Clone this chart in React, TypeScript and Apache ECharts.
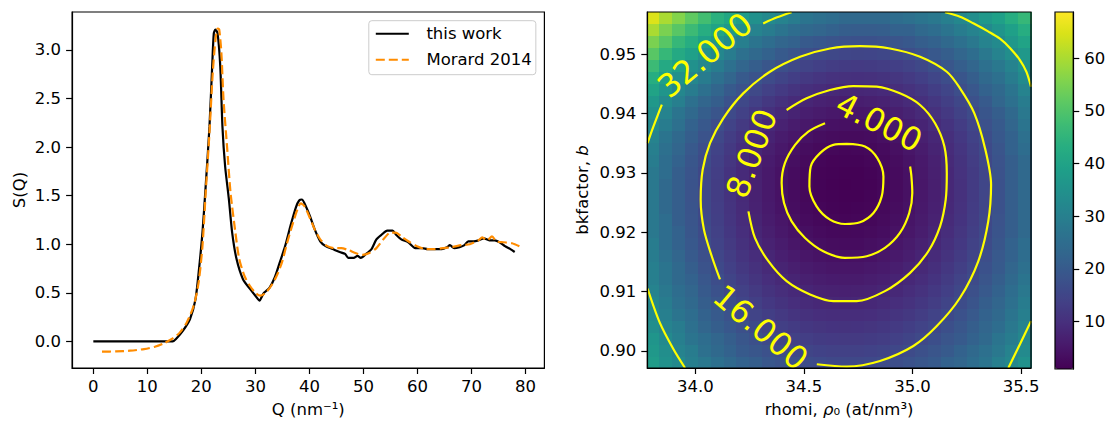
import React, { useEffect, useRef } from 'react';
import * as echarts from 'echarts';

const FONT = '"DejaVu Sans", sans-serif';
const FS = 16.5;

// ---------- Left panel: structure factor S(Q) ----------
const thisWorkQ = [0, 14.7, 15.3, 16.6, 17.9, 18.9, 19.5, 20.2, 20.8, 21.5, 22.0, 22.3, 22.6, 23.0, 23.5, 23.9, 24.4, 25.1, 25.7, 26.5, 27.7, 29.0, 30.0, 30.8, 31.1, 31.6, 32.6, 33.6, 34.5, 35.5, 36.5, 37.5, 38.1, 38.6, 39.1, 40.1, 41.0, 42.0, 43.0, 44.3, 45.6, 46.6, 47.2, 48.2, 48.9, 49.5, 50.5, 51.5, 52.4, 53.4, 54.4, 55.4, 56.0, 57.0, 58.3, 59.6, 60.9, 61.9, 63.2, 64.5, 65.5, 66.0, 66.8, 67.8, 68.7, 69.4, 70.4, 71.3, 72.3, 73.3, 74.3, 75.2, 76.2, 77.2, 78.0];
const thisWorkS = [0, 0, 0.024, 0.11, 0.23, 0.43, 0.71, 1.12, 1.60, 2.21, 2.83, 3.17, 3.21, 3.17, 2.83, 2.21, 1.80, 1.46, 1.12, 0.85, 0.64, 0.54, 0.47, 0.42, 0.45, 0.50, 0.55, 0.66, 0.81, 0.98, 1.19, 1.38, 1.45, 1.46, 1.42, 1.29, 1.15, 1.03, 0.98, 0.95, 0.92, 0.90, 0.86, 0.86, 0.88, 0.86, 0.90, 0.95, 1.05, 1.10, 1.14, 1.14, 1.10, 1.05, 1.02, 0.96, 0.96, 0.95, 0.95, 0.95, 0.97, 0.99, 0.96, 0.97, 0.99, 1.03, 1.03, 1.04, 1.06, 1.04, 1.04, 1.02, 0.98, 0.95, 0.92];

const morardQ = [1.6, 4.2, 6.8, 9.4, 11.4, 13.0, 14.7, 16.0, 17.3, 18.6, 19.5, 20.2, 20.8, 21.5, 22.1, 22.6, 23.0, 23.3, 23.7, 24.1, 24.8, 25.4, 26.3, 27.0, 28.0, 29.0, 30.0, 30.9, 31.9, 32.9, 33.9, 34.9, 35.8, 36.8, 37.8, 38.4, 39.1, 40.1, 41.0, 42.0, 43.3, 44.6, 45.9, 47.2, 48.5, 49.8, 51.1, 52.4, 53.7, 55.0, 56.0, 57.0, 58.3, 59.9, 61.6, 63.2, 64.8, 66.4, 68.1, 69.7, 71.3, 72.0, 72.9, 73.8, 74.6, 75.9, 77.5, 79.0];
const morardS = [-0.106, -0.103, -0.096, -0.079, -0.055, -0.021, 0.031, 0.09, 0.195, 0.37, 0.61, 0.98, 1.53, 2.15, 2.76, 3.10, 3.22, 3.21, 2.97, 2.49, 1.97, 1.53, 1.12, 0.85, 0.67, 0.57, 0.50, 0.47, 0.50, 0.57, 0.67, 0.81, 1.00, 1.19, 1.36, 1.42, 1.39, 1.27, 1.15, 1.05, 0.98, 0.96, 0.96, 0.94, 0.91, 0.89, 0.91, 0.96, 1.05, 1.12, 1.12, 1.08, 1.03, 0.98, 0.95, 0.95, 0.96, 0.97, 0.99, 1.00, 1.04, 1.07, 1.04, 1.08, 1.03, 1.02, 1.01, 0.975];

const seriesNames = ['this work', 'Morard 2014'];
const qTicks = [0, 10, 20, 30, 40, 50, 60, 70, 80];
const sTicks = [0, 0.5, 1.0, 1.5, 2.0, 2.5, 3.0];

// ---------- Right panel: misfit map ----------
const rhoCenters = [33.807, 33.866, 33.925, 33.984, 34.043, 34.102, 34.161, 34.220, 34.279, 34.338, 34.397, 34.456, 34.515, 34.574, 34.633, 34.691, 34.750, 34.809, 34.868, 34.927, 34.986, 35.045, 35.104, 35.163, 35.222, 35.281, 35.340, 35.399, 35.458, 35.517];
const bCenters = [0.8981, 0.9001, 0.9021, 0.9041, 0.9061, 0.9081, 0.9101, 0.9121, 0.9141, 0.9161, 0.9181, 0.9201, 0.9221, 0.9241, 0.9261, 0.9281, 0.9301, 0.9321, 0.9341, 0.9361, 0.9381, 0.9401, 0.9421, 0.9441, 0.9461, 0.9481, 0.9501, 0.9521, 0.9541, 0.9561];
// rows from bottom (b = 0.8981) to top (b = 0.9561)
const misfitRows = [
  [38, 35, 33, 30, 28, 26, 24, 22, 21, 19.2, 18.1, 17.2, 16.5, 16.0, 15.6, 15.5, 15.6, 15.9, 16.4, 17.0, 17.9, 19.0, 20, 22, 23, 25, 27, 30, 32, 35],
  [37, 34, 31, 29, 26, 24, 22, 20, 18.9, 17.6, 16.5, 15.5, 14.8, 14.3, 14.0, 13.9, 13.9, 14.2, 14.7, 15.4, 16.3, 17.4, 18.7, 20, 22, 24, 26, 28, 31, 33],
  [36, 33, 30, 27, 25, 23, 21, 19.0, 17.4, 16.0, 14.9, 14.0, 13.2, 12.7, 12.4, 12.3, 12.3, 12.6, 13.1, 13.8, 14.7, 15.8, 17.1, 18.6, 20, 22, 24, 27, 29, 32],
  [34, 31, 29, 26, 23, 21, 19.3, 17.5, 16.0, 14.6, 13.5, 12.5, 11.8, 11.2, 10.9, 10.8, 10.9, 11.2, 11.6, 12.4, 13.3, 14.4, 15.7, 17.2, 19.0, 21, 23, 25, 28, 31],
  [33, 30, 27, 25, 22, 20, 18.0, 16.2, 14.6, 13.3, 12.1, 11.1, 10.4, 9.8, 9.5, 9.4, 9.5, 9.8, 10.3, 11.0, 11.9, 13.0, 14.4, 15.9, 17.7, 19.6, 22, 24, 27, 30],
  [32, 29, 26, 24, 21, 18.9, 16.8, 15.0, 13.4, 12.0, 10.8, 9.8, 9.1, 8.5, 8.2, 8.1, 8.2, 8.5, 9.0, 9.7, 10.6, 11.8, 13.1, 14.7, 16.5, 18.5, 21, 23, 26, 29],
  [31, 28, 25, 23, 20, 17.8, 15.7, 13.9, 12.3, 10.8, 9.6, 8.7, 7.9, 7.3, 7.0, 6.9, 7.0, 7.3, 7.8, 8.5, 9.4, 10.6, 12.0, 13.6, 15.4, 17.4, 19.6, 22, 25, 28],
  [30, 27, 24, 22, 19.1, 16.8, 14.7, 12.9, 11.2, 9.8, 8.6, 7.6, 6.8, 6.2, 5.9, 5.8, 5.8, 6.2, 6.7, 7.4, 8.4, 9.5, 10.9, 12.5, 14.4, 16.4, 18.7, 21, 24, 27],
  [30, 27, 24, 21, 18.2, 15.9, 13.8, 11.9, 10.3, 8.8, 7.6, 6.6, 5.8, 5.2, 4.9, 4.8, 4.8, 5.2, 5.7, 6.4, 7.4, 8.6, 10.0, 11.6, 13.5, 15.5, 17.8, 20, 23, 26],
  [29, 26, 23, 20, 17.5, 15.2, 13.0, 11.1, 9.4, 8.0, 6.7, 5.7, 4.9, 4.3, 4.0, 3.8, 3.9, 4.2, 4.8, 5.5, 6.5, 7.7, 9.1, 10.8, 12.6, 14.7, 17.0, 19.6, 22, 25],
  [29, 25, 22, 19.5, 16.8, 14.5, 12.3, 10.4, 8.7, 7.2, 6.0, 4.9, 4.1, 3.5, 3.2, 3.1, 3.1, 3.5, 4.0, 4.8, 5.8, 7.0, 8.4, 10.1, 12.0, 14.1, 16.4, 19.0, 22, 25],
  [28, 25, 22, 19.0, 16.3, 13.9, 11.8, 9.8, 8.1, 6.6, 5.3, 4.3, 3.5, 2.9, 2.5, 2.4, 2.5, 2.8, 3.3, 4.1, 5.1, 6.3, 7.8, 9.5, 11.4, 13.5, 15.9, 18.5, 21, 24],
  [28, 25, 21, 18.6, 15.9, 13.5, 11.3, 9.3, 7.6, 6.1, 4.8, 3.7, 2.9, 2.3, 2.0, 1.8, 1.9, 2.2, 2.8, 3.6, 4.6, 5.8, 7.3, 9.0, 10.9, 13.1, 15.5, 18.1, 21, 24],
  [28, 24, 21, 18.4, 15.7, 13.2, 11.0, 9.0, 7.2, 5.7, 4.4, 3.3, 2.5, 1.9, 1.5, 1.4, 1.5, 1.8, 2.4, 3.2, 4.2, 5.5, 6.9, 8.7, 10.6, 12.8, 15.2, 17.8, 21, 24],
  [28, 24, 21, 18.2, 15.5, 13.1, 10.8, 8.8, 7.0, 5.5, 4.2, 3.1, 2.2, 1.6, 1.3, 1.1, 1.2, 1.5, 2.1, 2.9, 3.9, 5.2, 6.7, 8.4, 10.4, 12.6, 15.1, 17.7, 21, 24],
  [28, 24, 21, 18.3, 15.6, 13.1, 10.8, 8.8, 7.0, 5.4, 4.1, 3.0, 2.1, 1.5, 1.1, 1.0, 1.1, 1.4, 2.0, 2.8, 3.9, 5.1, 6.6, 8.4, 10.4, 12.6, 15.1, 17.8, 21, 24],
  [28, 25, 21, 18.5, 15.7, 13.2, 10.9, 8.9, 7.1, 5.5, 4.2, 3.1, 2.3, 1.6, 1.3, 1.1, 1.2, 1.5, 2.1, 2.9, 4.0, 5.2, 6.8, 8.5, 10.5, 12.7, 15.2, 17.9, 21, 24],
  [29, 25, 22, 19.0, 16.2, 13.7, 11.4, 9.3, 7.5, 5.9, 4.6, 3.5, 2.6, 2.0, 1.6, 1.5, 1.5, 1.9, 2.4, 3.2, 4.3, 5.5, 7.1, 8.8, 10.8, 13.0, 15.5, 18.2, 21, 24],
  [30, 26, 23, 19.8, 17.0, 14.4, 12.1, 10.0, 8.2, 6.6, 5.2, 4.1, 3.2, 2.6, 2.2, 2.0, 2.1, 2.4, 2.9, 3.7, 4.8, 6.0, 7.6, 9.3, 11.3, 13.5, 16.0, 18.7, 22, 25],
  [31, 27, 24, 21, 18.1, 15.5, 13.1, 11.0, 9.1, 7.5, 6.1, 5.0, 4.1, 3.4, 3.0, 2.8, 2.8, 3.1, 3.7, 4.5, 5.5, 6.8, 8.3, 10.0, 12.0, 14.2, 16.7, 19.4, 22, 26],
  [33, 29, 26, 22, 19.5, 16.9, 14.5, 12.3, 10.4, 8.7, 7.3, 6.1, 5.2, 4.5, 4.0, 3.8, 3.8, 4.1, 4.6, 5.4, 6.4, 7.7, 9.2, 10.9, 12.9, 15.2, 17.6, 20, 23, 27],
  [35, 31, 27, 24, 21, 18.6, 16.1, 13.9, 11.9, 10.2, 8.7, 7.5, 6.5, 5.8, 5.3, 5.1, 5.1, 5.3, 5.8, 6.6, 7.6, 8.8, 10.3, 12.1, 14.1, 16.3, 18.8, 21, 24, 28],
  [37, 33, 30, 26, 23, 21, 18.0, 15.7, 13.7, 11.9, 10.4, 9.1, 8.1, 7.3, 6.8, 6.5, 6.5, 6.8, 7.2, 8.0, 9.0, 10.2, 11.7, 13.4, 15.4, 17.6, 20, 23, 26, 29],
  [40, 36, 32, 29, 26, 23, 20, 17.9, 15.8, 14.0, 12.4, 11.1, 10.0, 9.2, 8.6, 8.3, 8.2, 8.5, 8.9, 9.6, 10.6, 11.8, 13.3, 15.0, 17.0, 19.2, 22, 24, 27, 31],
  [43, 39, 35, 32, 29, 26, 23, 20, 18.3, 16.3, 14.7, 13.3, 12.2, 11.3, 10.7, 10.3, 10.2, 10.4, 10.8, 11.5, 12.4, 13.6, 15.1, 16.8, 18.8, 21, 24, 26, 29, 33],
  [47, 42, 39, 35, 32, 29, 26, 23, 21, 19.0, 17.3, 15.8, 14.6, 13.7, 13.0, 12.6, 12.4, 12.6, 13.0, 13.6, 14.5, 15.7, 17.2, 18.9, 21, 23, 26, 28, 31, 35],
  [51, 46, 42, 39, 35, 32, 29, 26, 24, 22, 20, 18.6, 17.3, 16.3, 15.6, 15.1, 14.9, 15.0, 15.4, 16.0, 16.9, 18.1, 19.5, 21, 23, 25, 28, 31, 34, 37],
  [55, 51, 46, 43, 39, 36, 33, 30, 27, 25, 23, 22, 20, 19.3, 18.5, 18.0, 17.7, 17.8, 18.1, 18.7, 19.5, 21, 22, 24, 26, 28, 31, 33, 37, 40],
  [60, 55, 51, 47, 43, 40, 37, 34, 31, 29, 27, 25, 24, 23, 22, 21, 20.8, 20.7, 21, 22, 22, 24, 25, 27, 29, 31, 33, 36, 39, 43],
  [65, 60, 56, 52, 48, 44, 41, 38, 35, 33, 31, 29, 27, 26, 25, 24, 24, 24, 24, 25, 26, 27, 28, 30, 32, 34, 37, 39, 43, 46],
];

const rhoTicks = [34.0, 34.5, 35.0, 35.5];
const bTicks = [0.90, 0.91, 0.92, 0.93, 0.94, 0.95];
const cbarTicks = [10, 20, 30, 40, 50, 60];

// contour traces (rho, b), levels 2, 4, 8, 16, 32 (gaps where labels sit)
const contour2 = [[34.697, 0.93487], [34.781, 0.93443], [34.838, 0.93247], [34.866, 0.92938], [34.858, 0.92602], [34.820, 0.92322], [34.758, 0.92165], [34.689, 0.92137], [34.620, 0.92210], [34.558, 0.92434], [34.525, 0.92770], [34.531, 0.93106], [34.574, 0.93331], [34.635, 0.93471], [34.697, 0.93487]];
const contour4 = [[34.597, 0.93835], [34.520, 0.93695], [34.459, 0.93471], [34.412, 0.93162], [34.397, 0.92826], [34.408, 0.92490], [34.443, 0.92182], [34.505, 0.91902], [34.589, 0.91678], [34.689, 0.91566], [34.789, 0.91594], [34.873, 0.91734], [34.942, 0.91986], [34.985, 0.92322], [34.999, 0.92658], [34.995, 0.92938], [34.989, 0.93106]];
const contour8 = [[34.420, 0.94059], [34.512, 0.94255], [34.620, 0.94395], [34.727, 0.94462], [34.835, 0.94451], [34.942, 0.94339], [35.035, 0.94143], [35.104, 0.93835], [35.147, 0.93443], [35.158, 0.92994], [35.153, 0.92546], [35.127, 0.92098], [35.073, 0.91678], [34.989, 0.91314], [34.873, 0.91006], [34.743, 0.90838], [34.635, 0.90838], [34.528, 0.90950], [34.420, 0.91174], [34.336, 0.91510], [34.274, 0.91902], [34.244, 0.92350]];
const contour16 = [[34.113, 0.91202], [34.075, 0.91594], [34.039, 0.92042], [34.024, 0.92546], [34.033, 0.93050], [34.067, 0.93499], [34.128, 0.93919], [34.220, 0.94339], [34.343, 0.94703], [34.482, 0.94955], [34.620, 0.95095], [34.758, 0.95134], [34.896, 0.95095], [35.035, 0.94955], [35.158, 0.94703], [35.219, 0.94424], [35.284, 0.94010], [35.334, 0.93415], [35.362, 0.92798], [35.349, 0.92182], [35.303, 0.91509], [35.219, 0.90894], [35.112, 0.90417], [35.004, 0.90081], [34.850, 0.89829], [34.697, 0.89734], [34.559, 0.89773]];
const contour32a = [[33.779, 0.9350], [33.800, 0.9372], [33.825, 0.9396], [33.845, 0.9415]];
const contour32b = [[34.312, 0.95516], [34.376, 0.9562], [34.443, 0.95706]];
const contour32c = [[35.150, 0.95706], [35.219, 0.9563], [35.280, 0.9552], [35.350, 0.9538], [35.403, 0.9526], [35.450, 0.9510], [35.495, 0.9490], [35.525, 0.9470], [35.546, 0.9445]];
const contour32d = [[35.546, 0.9050], [35.495, 0.9011], [35.4415, 0.8971]];
const contour32e = [[33.779, 0.9105], [33.836, 0.9047], [33.898, 0.9003], [33.952, 0.8971]];
const contourSegments = [contour2, contour4, contour8, contour16, contour32a, contour32b, contour32c, contour32d, contour32e];

const contourLabelTexts = ['4.000', '8.000', '16.000', '32.000'];
const contourLabelPlaces = [
  { at: [34.846, 0.93849], rotate: -27 },
  { at: [34.259, 0.93325], rotate: 70 },
  { at: [34.300, 0.90390], rotate: -40 },
  { at: [34.044, 0.94983], rotate: 40 },
];

const VIRIDIS = ['#440154', '#48186a', '#472d7b', '#424086', '#3b528b', '#33638d', '#2c728e', '#26828e', '#21918c', '#1fa088', '#28ae80', '#3fbc73', '#5ec962', '#84d44b', '#addc30', '#d8e219', '#fde725'];

const zip = (xs: number[], ys: number[]) => xs.map((x, i) => [x, ys[i]]);

export default function App() {
  const ref = useRef<HTMLDivElement>(null);

  useEffect(() => {
    if (!ref.current) return;
    const chart = echarts.init(ref.current, undefined, { renderer: 'svg' });

    const halfRho = (rhoCenters[1] - rhoCenters[0]) / 2;
    const halfB = (bCenters[1] - bCenters[0]) / 2;
    const heatData: number[][] = [];
    misfitRows.forEach((row, j) => row.forEach((v, i) => heatData.push([rhoCenters[i], bCenters[j], v])));

    const txt = { color: '#000', fontSize: FS, fontFamily: FONT };
    const axisBase = (ticks: number[], fmt: (v: number) => string, margin: number) => ({
      type: 'value' as const,
      axisLine: { show: true, onZero: false, lineStyle: { color: '#000', width: 1.2 } },
      axisTick: { show: true, inside: false, length: 6, lineStyle: { color: '#000', width: 1.2 }, customValues: ticks },
      axisLabel: { ...txt, margin, customValues: ticks, formatter: (v: number) => fmt(v) },
      splitLine: { show: false },
      nameTextStyle: { ...txt },
      z: 10,
    });

    const contourSeries = contourSegments.map((seg) => ({
      type: 'line',
      xAxisIndex: 1,
      yAxisIndex: 1,
      data: seg,
      symbol: 'none',
      smooth: 0.3,
      silent: true,
      z: 5,
      lineStyle: { color: '#ffff00', width: 2.2 },
    }));

    const option: any = {
      animation: false,
      backgroundColor: '#ffffff',
      textStyle: { fontFamily: FONT },
      grid: [
        { left: 72.1, top: 12, width: 472.3, height: 357, show: true, borderColor: '#000', borderWidth: 1.2, backgroundColor: 'transparent', z: 10 },
        { left: 647.3, top: 12, width: 383.7, height: 357, show: true, borderColor: '#000', borderWidth: 1.2, backgroundColor: 'transparent', z: 10 },
        { left: 1055, top: 12, width: 18.3, height: 357, show: true, borderColor: '#000', borderWidth: 1.2, backgroundColor: 'transparent', z: 10 },
      ],
      xAxis: [
        { ...axisBase(qTicks, (v) => String(v), 10), gridIndex: 0, min: -3.93, max: 83.5, name: 'Q (nm⁻¹)', nameLocation: 'middle', nameGap: 33 },
        {
          ...axisBase(rhoTicks, (v) => v.toFixed(1), 10), gridIndex: 1, min: 33.778, max: 35.546,
          name: 'rhomi, {i|ρ}₀ (at/nm³)', nameLocation: 'middle', nameGap: 33,
          nameTextStyle: { ...txt, rich: { i: { ...txt, fontStyle: 'italic' } } },
        },
        { type: 'value', gridIndex: 2, min: 0, max: 1, show: false },
      ],
      yAxis: [
        { ...axisBase(sTicks, (v) => v.toFixed(1), 11), gridIndex: 0, min: -0.274, max: 3.39, name: 'S(Q)', nameLocation: 'middle', nameGap: 44 },
        {
          ...axisBase(bTicks, (v) => v.toFixed(2), 11), gridIndex: 1, min: 0.8971, max: 0.9571,
          name: 'bkfactor, {i|b}', nameLocation: 'middle', nameGap: 56,
          nameTextStyle: { ...txt, rich: { i: { ...txt, fontStyle: 'italic' } } },
        },
        { ...axisBase(cbarTicks, (v) => String(v), 11), gridIndex: 2, position: 'right', min: 1.0, max: 68.8 },
      ],
      legend: {
        data: seriesNames,
        orient: 'vertical',
        left: 368.8,
        top: 20.7,
        itemWidth: 33,
        itemHeight: 14,
        itemGap: 9,
        padding: [4.6, 4, 6.4, 6],
        backgroundColor: 'rgba(255,255,255,0.8)',
        borderColor: '#cccccc',
        borderWidth: 1,
        borderRadius: 3,
        selectedMode: false,
        itemStyle: { color: 'rgba(0,0,0,0)', borderColor: 'rgba(0,0,0,0)', borderWidth: 0, opacity: 0 },
        formatter: (n: string) => `{g|}${n}`,
        textStyle: { ...txt, lineHeight: 16, rich: { g: { width: 12.6 } } },
      },
      visualMap: {
        type: 'continuous',
        min: 1.0,
        max: 68.8,
        dimension: 2,
        seriesIndex: 2,
        inRange: { color: VIRIDIS },
        calculable: false,
        hoverLink: false,
        left: 1055,
        top: 12,
        itemWidth: 18.3,
        itemHeight: 357,
        padding: 0,
        showLabel: false,
      },
      series: [
        {
          name: seriesNames[0], type: 'line', xAxisIndex: 0, yAxisIndex: 0, data: zip(thisWorkQ, thisWorkS),
          symbol: 'none', smooth: 0.25, color: '#000000', lineStyle: { color: '#000000', width: 2.2 },
        },
        {
          name: seriesNames[1], type: 'line', xAxisIndex: 0, yAxisIndex: 0, data: zip(morardQ, morardS),
          symbol: 'none', smooth: 0.25, color: '#ff8c00', lineStyle: { color: '#ff8c00', width: 2.2, type: [9, 4] },
        },
        {
          type: 'custom', xAxisIndex: 1, yAxisIndex: 1, data: heatData, encode: { x: 0, y: 1 }, clip: true, silent: true, z: 2,
          renderItem: (_p: any, api: any) => {
            const x = api.value(0), y = api.value(1);
            const a = api.coord([x - halfRho, y + halfB]);
            const b = api.coord([x + halfRho, y - halfB]);
            const x0 = Math.floor(a[0]), y0 = Math.floor(a[1]);
            return {
              type: 'rect',
              shape: { x: x0, y: y0, width: Math.ceil(b[0]) - x0, height: Math.ceil(b[1]) - y0 },
              style: { fill: api.visual('color') },
            };
          },
        },
        ...contourSeries,
        {
          type: 'custom', xAxisIndex: 1, yAxisIndex: 1, silent: true, z: 6, clip: false,
          data: contourLabelPlaces.map((p) => p.at),
          encode: { x: 0, y: 1 },
          renderItem: (params: any, api: any) => {
            const k = params.dataIndex;
            const pt = api.coord([api.value(0), api.value(1)]);
            return {
              type: 'text',
              x: pt[0],
              y: pt[1],
              rotation: (contourLabelPlaces[k].rotate * Math.PI) / 180,
              style: {
                text: contourLabelTexts[k],
                fill: '#ffff00',
                fontSize: 32,
                fontFamily: FONT,
                align: 'center',
                verticalAlign: 'middle',
                opacity: 1,
              },
            };
          },
        },
        { type: 'scatter', xAxisIndex: 2, yAxisIndex: 2, data: [], silent: true },
      ],
    };

    chart.setOption(option);
    return () => chart.dispose();
  }, []);

  return <div ref={ref} style={{ position: 'fixed', left: 0, top: 0, width: 1111, height: 423, background: '#fff' }} />;
}
